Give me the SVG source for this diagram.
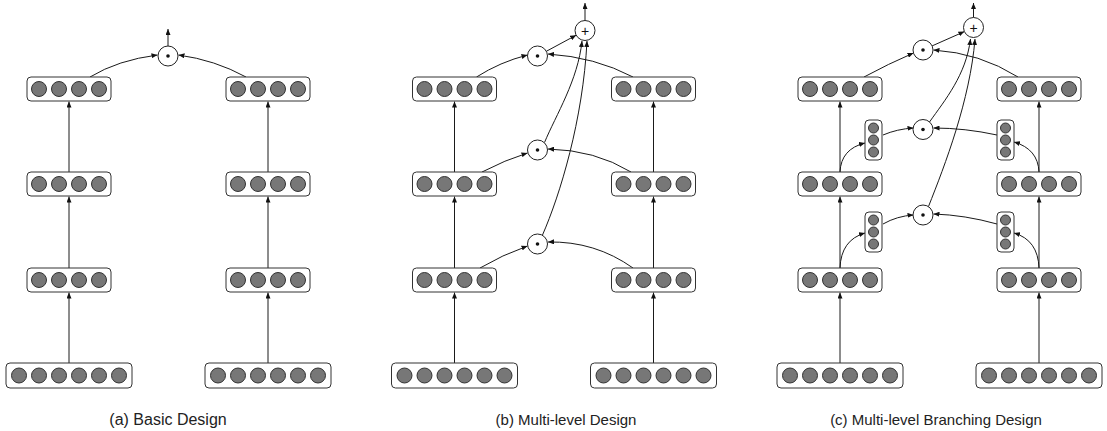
<svg xmlns="http://www.w3.org/2000/svg" width="1107" height="431" viewBox="0 0 1107 431">
<style>
.bx{fill:#fff;stroke:#333;stroke-width:1}
.u{fill:#777;stroke:#333;stroke-width:1}
.op{fill:#fff;stroke:#222;stroke-width:1}
.dot{fill:#111}
.ln{fill:none;stroke:#1a1a1a;stroke-width:1;marker-end:url(#ah)}
.cap{font-family:"Liberation Sans",Arial,Helvetica,sans-serif;font-size:15px;fill:#222;text-anchor:middle}
.pl{font-family:"Liberation Sans",Arial,Helvetica,sans-serif;font-size:14px;fill:#111;text-anchor:middle}
</style>
<defs>
<marker id="ah" markerUnits="userSpaceOnUse" markerWidth="6" markerHeight="5" refX="6" refY="2.5" orient="auto">
<path d="M0,0 L6,2.5 L0,5 z" fill="#111"/>
</marker>
</defs>
<rect width="1107" height="431" fill="#fff"/>

<!-- connectors -->
<g id="connectors">
<!-- (a) -->
<path class="ln" d="M69,172 V101.5"/>
<path class="ln" d="M69,268 V196.5"/>
<path class="ln" d="M69,363 V292.5"/>
<path class="ln" d="M268,172 V101.5"/>
<path class="ln" d="M268,268 V196.5"/>
<path class="ln" d="M268,363 V292.5"/>
<path class="ln" d="M90,77 Q118,60 157.5,55"/>
<path class="ln" d="M246,77 Q215,60 178.5,55"/>
<path class="ln" d="M168,46 V29"/>
<!-- (b) -->
<path class="ln" d="M454.5,172 V101.5"/>
<path class="ln" d="M454.5,268 V196.5"/>
<path class="ln" d="M454.5,363 V292.5"/>
<path class="ln" d="M653.5,172 V101.5"/>
<path class="ln" d="M653.5,268 V196.5"/>
<path class="ln" d="M653.5,363 V292.5"/>
<path class="ln" d="M476.5,77 Q500,62 527.5,55"/>
<path class="ln" d="M633,77 Q595,57 548,54"/>
<path class="ln" d="M546.3,51.3 L576.2,35.2"/>
<path class="ln" d="M482,172 Q505,160 527.5,153"/>
<path class="ln" d="M631,172 Q595,150 548,149"/>
<path class="ln" d="M544.5,142.5 C556,115 578,80 582,41"/>
<path class="ln" d="M480,268 Q502,255 527.5,246"/>
<path class="ln" d="M633,268 Q595,241 548,242"/>
<path class="ln" d="M542.5,235 C560,195 583,120 587,41"/>
<path class="ln" d="M585,20.5 V3"/>
<!-- (c) -->
<path class="ln" d="M840,172 V101.5"/>
<path class="ln" d="M840,268 V196.5"/>
<path class="ln" d="M840,363 V292.5"/>
<path class="ln" d="M1039,172 V101.5"/>
<path class="ln" d="M1039,268 V196.5"/>
<path class="ln" d="M1039,363 V292.5"/>
<path class="ln" d="M864,77 Q888,64 913.5,53"/>
<path class="ln" d="M1018,77 Q980,53 933.5,50"/>
<path class="ln" d="M932.1,45.9 L964.4,31.6"/>
<path class="ln" d="M840,172 Q841,149 865,143"/>
<path class="ln" d="M883,135 Q897,129 913.5,128"/>
<path class="ln" d="M1039,172 Q1038,149 1014,142"/>
<path class="ln" d="M997,135 Q965,128 933.5,128"/>
<path class="ln" d="M929.5,122 C945,100 966,75 970.5,39"/>
<path class="ln" d="M840,268 Q841,240 865,233"/>
<path class="ln" d="M883,224 Q897,216 913.5,215"/>
<path class="ln" d="M1039,268 Q1038,240 1014,233"/>
<path class="ln" d="M997,224 Q965,215 933.5,214"/>
<path class="ln" d="M928.5,206.5 C945,165 970,100 975,39"/>
<path class="ln" d="M973.5,17.5 V3"/>
</g>

<!-- panel (a) nodes -->
<g id="a-left-1"><rect class="bx" x="27" y="77" width="84" height="24" rx="4"/><circle class="u" cx="39" cy="89" r="7.5"/><circle class="u" cx="59" cy="89" r="7.5"/><circle class="u" cx="79" cy="89" r="7.5"/><circle class="u" cx="99" cy="89" r="7.5"/></g>
<g id="a-left-2"><rect class="bx" x="27" y="172" width="84" height="24" rx="4"/><circle class="u" cx="39" cy="184" r="7.5"/><circle class="u" cx="59" cy="184" r="7.5"/><circle class="u" cx="79" cy="184" r="7.5"/><circle class="u" cx="99" cy="184" r="7.5"/></g>
<g id="a-left-3"><rect class="bx" x="27" y="268" width="84" height="24" rx="4"/><circle class="u" cx="39" cy="280" r="7.5"/><circle class="u" cx="59" cy="280" r="7.5"/><circle class="u" cx="79" cy="280" r="7.5"/><circle class="u" cx="99" cy="280" r="7.5"/></g>
<g id="a-left-in"><rect class="bx" x="6" y="363" width="126" height="25" rx="4"/><circle class="u" cx="19" cy="375.5" r="7.5"/><circle class="u" cx="39" cy="375.5" r="7.5"/><circle class="u" cx="59" cy="375.5" r="7.5"/><circle class="u" cx="79" cy="375.5" r="7.5"/><circle class="u" cx="99" cy="375.5" r="7.5"/><circle class="u" cx="119" cy="375.5" r="7.5"/></g>
<g id="a-right-1"><rect class="bx" x="226" y="77" width="84" height="24" rx="4"/><circle class="u" cx="238" cy="89" r="7.5"/><circle class="u" cx="258" cy="89" r="7.5"/><circle class="u" cx="278" cy="89" r="7.5"/><circle class="u" cx="298" cy="89" r="7.5"/></g>
<g id="a-right-2"><rect class="bx" x="226" y="172" width="84" height="24" rx="4"/><circle class="u" cx="238" cy="184" r="7.5"/><circle class="u" cx="258" cy="184" r="7.5"/><circle class="u" cx="278" cy="184" r="7.5"/><circle class="u" cx="298" cy="184" r="7.5"/></g>
<g id="a-right-3"><rect class="bx" x="226" y="268" width="84" height="24" rx="4"/><circle class="u" cx="238" cy="280" r="7.5"/><circle class="u" cx="258" cy="280" r="7.5"/><circle class="u" cx="278" cy="280" r="7.5"/><circle class="u" cx="298" cy="280" r="7.5"/></g>
<g id="a-right-in"><rect class="bx" x="205" y="363" width="126" height="25" rx="4"/><circle class="u" cx="218" cy="375.5" r="7.5"/><circle class="u" cx="238" cy="375.5" r="7.5"/><circle class="u" cx="258" cy="375.5" r="7.5"/><circle class="u" cx="278" cy="375.5" r="7.5"/><circle class="u" cx="298" cy="375.5" r="7.5"/><circle class="u" cx="318" cy="375.5" r="7.5"/></g>
<g id="a-mul"><circle class="op" cx="168" cy="56" r="10"/><circle class="dot" cx="168" cy="56" r="1.8"/></g>

<!-- panel (b) nodes -->
<g id="b-left-1"><rect class="bx" x="412.5" y="77" width="84" height="24" rx="4"/><circle class="u" cx="424.5" cy="89" r="7.5"/><circle class="u" cx="444.5" cy="89" r="7.5"/><circle class="u" cx="464.5" cy="89" r="7.5"/><circle class="u" cx="484.5" cy="89" r="7.5"/></g>
<g id="b-left-2"><rect class="bx" x="412.5" y="172" width="84" height="24" rx="4"/><circle class="u" cx="424.5" cy="184" r="7.5"/><circle class="u" cx="444.5" cy="184" r="7.5"/><circle class="u" cx="464.5" cy="184" r="7.5"/><circle class="u" cx="484.5" cy="184" r="7.5"/></g>
<g id="b-left-3"><rect class="bx" x="412.5" y="268" width="84" height="24" rx="4"/><circle class="u" cx="424.5" cy="280" r="7.5"/><circle class="u" cx="444.5" cy="280" r="7.5"/><circle class="u" cx="464.5" cy="280" r="7.5"/><circle class="u" cx="484.5" cy="280" r="7.5"/></g>
<g id="b-left-in"><rect class="bx" x="391.5" y="363" width="126" height="25" rx="4"/><circle class="u" cx="404.5" cy="375.5" r="7.5"/><circle class="u" cx="424.5" cy="375.5" r="7.5"/><circle class="u" cx="444.5" cy="375.5" r="7.5"/><circle class="u" cx="464.5" cy="375.5" r="7.5"/><circle class="u" cx="484.5" cy="375.5" r="7.5"/><circle class="u" cx="504.5" cy="375.5" r="7.5"/></g>
<g id="b-right-1"><rect class="bx" x="611.5" y="77" width="84" height="24" rx="4"/><circle class="u" cx="623.5" cy="89" r="7.5"/><circle class="u" cx="643.5" cy="89" r="7.5"/><circle class="u" cx="663.5" cy="89" r="7.5"/><circle class="u" cx="683.5" cy="89" r="7.5"/></g>
<g id="b-right-2"><rect class="bx" x="611.5" y="172" width="84" height="24" rx="4"/><circle class="u" cx="623.5" cy="184" r="7.5"/><circle class="u" cx="643.5" cy="184" r="7.5"/><circle class="u" cx="663.5" cy="184" r="7.5"/><circle class="u" cx="683.5" cy="184" r="7.5"/></g>
<g id="b-right-3"><rect class="bx" x="611.5" y="268" width="84" height="24" rx="4"/><circle class="u" cx="623.5" cy="280" r="7.5"/><circle class="u" cx="643.5" cy="280" r="7.5"/><circle class="u" cx="663.5" cy="280" r="7.5"/><circle class="u" cx="683.5" cy="280" r="7.5"/></g>
<g id="b-right-in"><rect class="bx" x="590.5" y="363" width="126" height="25" rx="4"/><circle class="u" cx="603.5" cy="375.5" r="7.5"/><circle class="u" cx="623.5" cy="375.5" r="7.5"/><circle class="u" cx="643.5" cy="375.5" r="7.5"/><circle class="u" cx="663.5" cy="375.5" r="7.5"/><circle class="u" cx="683.5" cy="375.5" r="7.5"/><circle class="u" cx="703.5" cy="375.5" r="7.5"/></g>
<g id="b-mul-1"><circle class="op" cx="537.5" cy="56" r="10"/><circle class="dot" cx="537.5" cy="56" r="1.8"/></g>
<g id="b-mul-2"><circle class="op" cx="537.5" cy="150" r="10"/><circle class="dot" cx="537.5" cy="150" r="1.8"/></g>
<g id="b-mul-3"><circle class="op" cx="537.5" cy="244" r="10"/><circle class="dot" cx="537.5" cy="244" r="1.8"/></g>
<g id="b-sum"><circle class="op" cx="585" cy="30.5" r="10"/><text class="pl" x="585" y="35.5">+</text></g>

<!-- panel (c) nodes -->
<g id="c-left-1"><rect class="bx" x="798" y="77" width="84" height="24" rx="4"/><circle class="u" cx="810" cy="89" r="7.5"/><circle class="u" cx="830" cy="89" r="7.5"/><circle class="u" cx="850" cy="89" r="7.5"/><circle class="u" cx="870" cy="89" r="7.5"/></g>
<g id="c-left-2"><rect class="bx" x="798" y="172" width="84" height="24" rx="4"/><circle class="u" cx="810" cy="184" r="7.5"/><circle class="u" cx="830" cy="184" r="7.5"/><circle class="u" cx="850" cy="184" r="7.5"/><circle class="u" cx="870" cy="184" r="7.5"/></g>
<g id="c-left-3"><rect class="bx" x="798" y="268" width="84" height="24" rx="4"/><circle class="u" cx="810" cy="280" r="7.5"/><circle class="u" cx="830" cy="280" r="7.5"/><circle class="u" cx="850" cy="280" r="7.5"/><circle class="u" cx="870" cy="280" r="7.5"/></g>
<g id="c-left-in"><rect class="bx" x="777" y="363" width="126" height="25" rx="4"/><circle class="u" cx="790" cy="375.5" r="7.5"/><circle class="u" cx="810" cy="375.5" r="7.5"/><circle class="u" cx="830" cy="375.5" r="7.5"/><circle class="u" cx="850" cy="375.5" r="7.5"/><circle class="u" cx="870" cy="375.5" r="7.5"/><circle class="u" cx="890" cy="375.5" r="7.5"/></g>
<g id="c-right-1"><rect class="bx" x="997" y="77" width="84" height="24" rx="4"/><circle class="u" cx="1009" cy="89" r="7.5"/><circle class="u" cx="1029" cy="89" r="7.5"/><circle class="u" cx="1049" cy="89" r="7.5"/><circle class="u" cx="1069" cy="89" r="7.5"/></g>
<g id="c-right-2"><rect class="bx" x="997" y="172" width="84" height="24" rx="4"/><circle class="u" cx="1009" cy="184" r="7.5"/><circle class="u" cx="1029" cy="184" r="7.5"/><circle class="u" cx="1049" cy="184" r="7.5"/><circle class="u" cx="1069" cy="184" r="7.5"/></g>
<g id="c-right-3"><rect class="bx" x="997" y="268" width="84" height="24" rx="4"/><circle class="u" cx="1009" cy="280" r="7.5"/><circle class="u" cx="1029" cy="280" r="7.5"/><circle class="u" cx="1049" cy="280" r="7.5"/><circle class="u" cx="1069" cy="280" r="7.5"/></g>
<g id="c-right-in"><rect class="bx" x="976" y="363" width="126" height="25" rx="4"/><circle class="u" cx="989" cy="375.5" r="7.5"/><circle class="u" cx="1009" cy="375.5" r="7.5"/><circle class="u" cx="1029" cy="375.5" r="7.5"/><circle class="u" cx="1049" cy="375.5" r="7.5"/><circle class="u" cx="1069" cy="375.5" r="7.5"/><circle class="u" cx="1089" cy="375.5" r="7.5"/></g>
<g id="c-left-br-1"><rect class="bx" x="865" y="120" width="17" height="40" rx="4"/><circle class="u" cx="873.5" cy="128" r="5"/><circle class="u" cx="873.5" cy="140" r="5"/><circle class="u" cx="873.5" cy="152" r="5"/></g>
<g id="c-right-br-1"><rect class="bx" x="997" y="120" width="17" height="40" rx="4"/><circle class="u" cx="1005.5" cy="128" r="5"/><circle class="u" cx="1005.5" cy="140" r="5"/><circle class="u" cx="1005.5" cy="152" r="5"/></g>
<g id="c-left-br-2"><rect class="bx" x="865" y="212" width="17" height="40" rx="4"/><circle class="u" cx="873.5" cy="220" r="5"/><circle class="u" cx="873.5" cy="232" r="5"/><circle class="u" cx="873.5" cy="244" r="5"/></g>
<g id="c-right-br-2"><rect class="bx" x="997" y="212" width="17" height="40" rx="4"/><circle class="u" cx="1005.5" cy="220" r="5"/><circle class="u" cx="1005.5" cy="232" r="5"/><circle class="u" cx="1005.5" cy="244" r="5"/></g>
<g id="c-mul-1"><circle class="op" cx="923" cy="50" r="10"/><circle class="dot" cx="923" cy="50" r="1.8"/></g>
<g id="c-mul-2"><circle class="op" cx="923" cy="129.5" r="10"/><circle class="dot" cx="923" cy="129.5" r="1.8"/></g>
<g id="c-mul-3"><circle class="op" cx="923" cy="215" r="10"/><circle class="dot" cx="923" cy="215" r="1.8"/></g>
<g id="c-sum"><circle class="op" cx="973.5" cy="27.5" r="10"/><text class="pl" x="973.5" y="32.5">+</text></g>

<!-- captions -->
<g id="captions">
<text class="cap" x="168" y="425" style="font-size:16px">(a) Basic Design</text>
<text class="cap" x="566" y="425">(b) Multi-level Design</text>
<text class="cap" x="936" y="425">(c) Multi-level Branching Design</text>
</g>
</svg>
